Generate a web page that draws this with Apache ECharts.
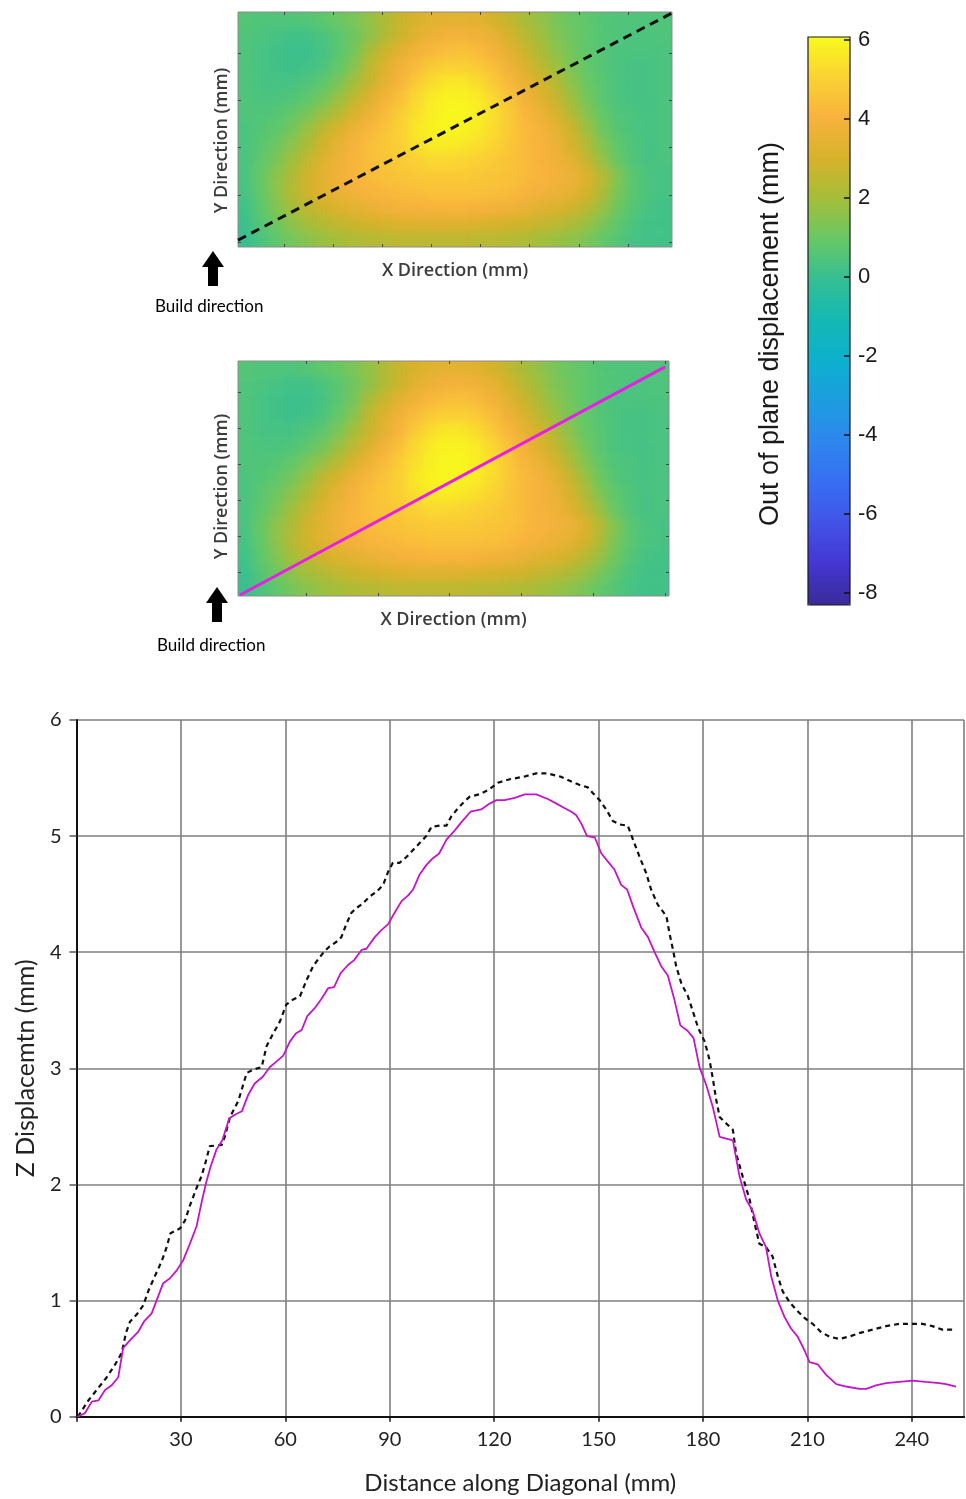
<!DOCTYPE html>
<html>
<head>
<meta charset="utf-8">
<script src="https://cdn.jsdelivr.net/npm/echarts@6/dist/echarts.min.js"></script>
<style>
  html, body { margin: 0; padding: 0; background: #ffffff; }
  #stage { position: relative; width: 966px; height: 1499px; }
  #maps, #chart { position: absolute; left: 0; top: 0; width: 966px; height: 1499px; }
  /* the displacement maps are shaded smoothly: soften the cells, keep full opacity at the plate edges */
  #maps {
    filter: url(#soften);
    clip-path: path('M238,12 H672 V247 H238 Z M238,361 H669 V596 H238 Z');
  }
</style>
</head>
<body>
<svg width="0" height="0" style="position:absolute">
  <filter id="soften" x="0" y="0" width="100%" height="100%" color-interpolation-filters="sRGB">
    <feGaussianBlur stdDeviation="5"/>
    <feComponentTransfer><feFuncA type="table" tableValues="1 1"/></feComponentTransfer>
  </filter>
</svg>
<div id="stage">
  <div id="maps"></div>
  <div id="chart"></div>
</div>
<script>
// Out-of-plane displacement field (mm); rows run from the top edge of the plate down to the bottom edge
const fieldRows = [
  [0.6,0.5,0.5,0.5,0.6,0.8,1.0,1.3,1.7,2.2,2.7,3.1,3.3,3.4,3.4,3.3,3.0,2.6,2.1,1.7,1.3,1.0,0.8,0.6,0.5,0.5,0.5,0.5],
  [0.5,0.4,0.3,0.2,0.2,0.4,0.7,1.1,1.6,2.2,2.8,3.3,3.7,3.9,3.9,3.8,3.5,3.0,2.4,1.9,1.4,1.1,0.8,0.6,0.5,0.4,0.4,0.5],
  [0.5,0.3,0.2,0.1,0.1,0.3,0.7,1.2,2.1,2.8,3.4,3.8,4.2,4.4,4.5,4.3,3.9,3.4,2.8,2.2,1.6,1.2,0.8,0.6,0.4,0.4,0.4,0.4],
  [0.5,0.3,0.2,0.1,0.2,0.4,0.9,1.5,2.5,3.2,3.8,4.3,4.8,5.0,5.0,4.8,4.4,3.8,3.2,2.5,1.9,1.3,0.9,0.6,0.4,0.3,0.3,0.4],
  [0.5,0.3,0.3,0.3,0.5,0.8,1.3,2.0,2.7,3.4,4.1,4.8,5.3,5.6,5.6,5.3,4.8,4.2,3.6,3.0,2.3,1.6,1.0,0.7,0.4,0.3,0.3,0.4],
  [0.5,0.4,0.4,0.5,0.8,1.2,1.8,2.5,3.2,3.9,4.5,5.2,5.7,5.9,5.9,5.7,5.2,4.6,3.9,3.3,2.7,1.9,1.2,0.7,0.4,0.3,0.3,0.4],
  [0.5,0.5,0.6,0.9,1.3,1.8,2.4,3.1,3.7,4.3,4.9,5.4,5.8,6.0,6.0,5.8,5.4,4.8,4.2,3.7,3.1,2.3,1.5,0.9,0.5,0.4,0.3,0.4],
  [0.4,0.6,0.8,1.2,1.8,2.5,3.1,3.7,4.2,4.6,5.0,5.6,5.9,6.0,5.9,5.7,5.3,4.8,4.3,4.0,3.5,2.8,1.9,1.1,0.6,0.4,0.3,0.4],
  [0.4,0.7,1.1,1.6,2.2,2.9,3.5,4.0,4.4,4.7,5.0,5.4,5.7,5.7,5.6,5.4,5.1,4.7,4.3,4.0,3.7,3.1,2.3,1.4,0.8,0.5,0.3,0.4],
  [0.4,0.8,1.3,1.9,2.6,3.2,3.7,4.1,4.4,4.6,4.8,5.0,5.2,5.2,5.1,5.0,4.8,4.6,4.3,4.0,3.8,3.4,2.7,1.8,1.0,0.5,0.3,0.4],
  [0.4,1.0,1.6,2.2,2.9,3.4,3.8,4.1,4.3,4.5,4.6,4.7,4.8,4.8,4.8,4.7,4.6,4.5,4.3,4.1,3.9,3.7,3.2,2.4,1.4,0.7,0.4,0.3],
  [0.3,0.9,1.6,2.3,2.9,3.3,3.6,3.9,4.1,4.2,4.3,4.4,4.5,4.5,4.5,4.5,4.4,4.3,4.1,3.9,3.7,3.5,3.0,2.2,1.3,0.7,0.4,0.3],
  [0.2,0.8,1.4,2.0,2.5,2.9,3.2,3.4,3.6,3.8,3.9,4.0,4.1,4.1,4.1,4.0,3.9,3.8,3.6,3.4,3.2,2.9,2.4,1.8,1.1,0.6,0.3,0.2],
  [0.1,0.6,1.1,1.6,2.0,2.3,2.6,2.8,3.0,3.1,3.2,3.3,3.3,3.3,3.3,3.2,3.1,3.0,2.9,2.7,2.5,2.2,1.8,1.3,0.8,0.4,0.2,0.2],
  [0.0,0.4,0.8,1.2,1.5,1.8,2.0,2.2,2.3,2.4,2.5,2.5,2.5,2.5,2.5,2.4,2.4,2.3,2.2,2.0,1.8,1.6,1.3,0.9,0.6,0.3,0.2,0.2]
];

// Plate size (mm) and the diagonal sections drawn over each map
const plateX = 222;
const plateY = 120;
const diagonalDashed = [[0, 3.5], [222, 119.5]];
const diagonalSolid = [[1, 0.5], [220, 117]];

// Z displacement profiles along the diagonal (distance mm, displacement mm)
const dashedDist = [0.4,3.4,5.8,8.7,11.1,13.0,14.2,15.4,17.3,19.2,20.6,22.5,24.5,25.9,27.0,29.7,31.2,32.6,34.5,35.9,36.9,38.3,41.7,42.6,44.1,46.5,48.9,50.8,53.2,54.6,56.5,58.4,60.3,62.1,64.2,66.1,68.0,69.7,71.3,72.7,74.7,76.1,77.5,79.0,80.4,82.3,84.2,86.2,88.1,89.5,90.9,92.8,94.8,96.7,98.6,100.5,102.0,104.4,106.3,107.7,109.6,111.5,113.0,115.8,118.5,121.1,124.5,128.3,132.1,135.4,139.3,142.2,144.6,146.9,148.4,150.3,152.2,154.1,156.1,158.4,159.9,161.8,163.7,165.1,167.0,169.5,170.4,171.4,172.3,173.8,175.7,177.1,178.6,180.5,181.9,182.9,183.8,184.8,188.6,189.5,191.4,193.4,194.8,196.2,198.1,200.0,201.5,202.9,204.8,206.8,209.2,211.5,213.9,216.3,219.2,222.0,224.9,228.8,232.6,236.4,240.2,243.1,245.9,248.8,252.7];
const dashedZ = [0.00,0.14,0.23,0.34,0.45,0.55,0.72,0.82,0.88,0.96,1.08,1.21,1.34,1.46,1.58,1.62,1.69,1.82,1.97,2.07,2.17,2.33,2.34,2.41,2.58,2.72,2.96,2.99,3.01,3.19,3.30,3.40,3.55,3.59,3.62,3.76,3.88,3.95,4.01,4.05,4.09,4.13,4.24,4.34,4.38,4.42,4.48,4.52,4.58,4.69,4.77,4.77,4.82,4.88,4.94,5.00,5.08,5.09,5.09,5.17,5.24,5.30,5.34,5.36,5.40,5.46,5.49,5.51,5.54,5.54,5.51,5.47,5.44,5.42,5.37,5.31,5.23,5.13,5.10,5.09,4.97,4.82,4.68,4.54,4.41,4.31,4.16,4.02,3.88,3.73,3.62,3.49,3.35,3.23,3.07,2.90,2.73,2.58,2.47,2.27,2.07,1.87,1.67,1.49,1.46,1.38,1.21,1.08,0.99,0.92,0.85,0.80,0.73,0.69,0.67,0.69,0.72,0.75,0.78,0.80,0.80,0.80,0.78,0.75,0.75];

const solidDist = [0.3,2.4,4.4,6.3,8.2,10.1,12.0,13.4,15.4,17.7,19.4,21.6,23.0,24.9,26.8,28.8,30.7,32.6,34.5,35.9,37.2,38.5,40.2,41.9,43.9,45.5,47.5,49.3,51.2,53.6,55.5,57.5,59.4,61.3,63.0,64.7,66.3,68.5,70.4,72.3,74.0,75.9,78.0,79.7,81.9,83.3,85.7,87.6,89.5,91.4,93.4,95.3,96.7,98.6,100.5,102.4,104.2,106.3,108.7,110.6,113.2,116.3,118.7,120.7,123.0,125.9,128.8,132.1,135.4,137.9,140.3,142.2,143.6,145.0,146.7,148.9,150.8,152.7,154.6,156.5,158.2,160.1,162.3,164.2,166.1,168.0,169.9,171.8,173.5,175.7,177.3,179.0,180.9,182.8,184.8,188.6,190.5,192.4,194.3,196.2,198.1,199.6,201.5,203.4,205.3,207.2,209.2,210.6,213.0,215.4,218.3,221.1,224.9,226.9,229.7,232.6,236.4,240.2,244.0,247.9,249.8,252.7];
const solidZ = [0.00,0.03,0.13,0.14,0.23,0.27,0.34,0.59,0.66,0.73,0.82,0.89,1.00,1.15,1.19,1.26,1.35,1.49,1.64,1.84,2.01,2.15,2.30,2.38,2.57,2.60,2.63,2.77,2.87,2.93,3.01,3.06,3.11,3.23,3.30,3.33,3.45,3.52,3.60,3.69,3.70,3.82,3.89,3.93,4.02,4.03,4.13,4.19,4.24,4.34,4.44,4.49,4.54,4.67,4.75,4.81,4.85,4.97,5.05,5.12,5.21,5.23,5.28,5.31,5.31,5.33,5.36,5.36,5.32,5.28,5.24,5.21,5.18,5.11,5.00,4.99,4.85,4.78,4.71,4.58,4.54,4.38,4.21,4.13,4.00,3.88,3.80,3.59,3.37,3.32,3.26,3.01,2.86,2.67,2.41,2.38,2.07,1.87,1.77,1.58,1.46,1.21,1.00,0.86,0.76,0.69,0.57,0.47,0.45,0.36,0.28,0.26,0.24,0.24,0.27,0.29,0.30,0.31,0.30,0.29,0.28,0.26];

// Colour bar: shaded range and labelled ticks
const colorbarMin = -8.3;
const colorbarMax = 6.08;
const colorbarTickMin = -8;
const colorbarTickMax = 6;
const parulaColors = ['#3b2a98', '#4436d2', '#4252e8', '#386ef2', '#2e86ee', '#1e9ce0', '#0cb0ce', '#14b8b4',
                      '#34be94', '#66c866', '#a4be3a', '#d6b22a', '#f8b23e', '#fad234', '#f9f91c'];

const nRows = fieldRows.length;
const heatData = [];
fieldRows.forEach((row, r) => row.forEach((v, c) => heatData.push([c, nRows - 1 - r, v])));
const colCats = fieldRows[0].map((_, i) => i);
const rowCats = fieldRows.map((_, i) => i);

const pairs = (xs, ys) => xs.map((x, i) => [x, ys[i]]);

// Map frames shared by both chart layers
const mapFrames = [
  { left: 238, top: 12, width: 434, height: 235 },
  { left: 238, top: 361, width: 431, height: 235 }
];

// ---- Layer 1: the two displacement maps (cells only) ----
const mapsChart = echarts.init(document.getElementById('maps'), null, { renderer: 'canvas' });
mapsChart.setOption({
  backgroundColor: 'transparent',
  animation: false,
  grid: mapFrames.map(f => Object.assign({ show: false }, f)),
  xAxis: mapFrames.map((_, g) => ({ gridIndex: g, type: 'category', data: colCats, show: false })),
  yAxis: mapFrames.map((_, g) => ({ gridIndex: g, type: 'category', data: rowCats, show: false })),
  visualMap: {
    type: 'continuous', min: colorbarMin, max: colorbarMax, show: false,
    inRange: { color: parulaColors }
  },
  series: mapFrames.map((_, g) => ({
    type: 'heatmap', xAxisIndex: g, yAxisIndex: g, data: heatData, itemStyle: { borderWidth: 0 }
  }))
});

// ---- Layer 2: frames, ticks, sections, colour bar and the profile plot ----
const grids = [];
const xAxes = [];
const yAxes = [];
function addGrid(grid, xAxis, yAxis) {
  const g = grids.length;
  grids.push(grid);
  xAxes.push(Object.assign({ gridIndex: g }, xAxis));
  yAxes.push(Object.assign({ gridIndex: g }, yAxis));
  return g;
}
const hiddenAxis = { type: 'value', show: false };

// short edge ticks: a thin strip whose split lines fall on evenly spaced ticks
function tickStrip(rect, vertical, steps, color, width) {
  const lines = { type: 'value', min: 0, max: steps, interval: 1, z: 10,
    axisLine: { show: false }, axisTick: { show: false }, axisLabel: { show: false },
    splitLine: { show: true, lineStyle: { color: color, width: width } } };
  addGrid(Object.assign({ show: false }, rect), vertical ? hiddenAxis : lines, vertical ? lines : hiddenAxis);
}

const mapLabelFont = { fontFamily: 'Open Sans', fontSize: 18, fontWeight: 600, color: '#3c3c3c' };
const plainAxis = { axisLine: { show: false }, axisTick: { show: false }, axisLabel: { show: false }, splitLine: { show: false } };

function mapPanel(frame, yNameShift) {
  return addGrid(
    Object.assign({ show: true, borderColor: '#8c8c8c', borderWidth: 1, z: 5, backgroundColor: 'transparent' }, frame),
    Object.assign({ type: 'value', min: 0, max: plateX,
      name: 'X Direction (mm)', nameLocation: 'middle', nameGap: 15, nameTextStyle: mapLabelFont }, plainAxis),
    Object.assign({ type: 'value', min: 0, max: plateY,
      name: 'Y Direction (mm)', nameLocation: 'middle', nameGap: 7,
      nameTextStyle: Object.assign({ padding: [0, yNameShift, 0, 0] }, mapLabelFont) }, plainAxis)
  );
}

const map1Grid = mapPanel(mapFrames[0], 22);
const map2Grid = mapPanel(mapFrames[1], 16);

// edge ticks of the two maps
const mapTick = '#444444';
tickStrip({ left: 284, top: 244, width: 344, height: 3 }, false, 7, mapTick, 1);
tickStrip({ left: 284, top: 12, width: 344, height: 3 }, false, 7, mapTick, 1);
tickStrip({ left: 238, top: 53, width: 3, height: 189 }, true, 4, mapTick, 1);
tickStrip({ left: 669, top: 53, width: 3, height: 189 }, true, 4, mapTick, 1);
tickStrip({ left: 306, top: 593, width: 359, height: 3 }, false, 5, mapTick, 1);
tickStrip({ left: 306, top: 361, width: 359, height: 3 }, false, 5, mapTick, 1);
tickStrip({ left: 238, top: 392, width: 3, height: 180 }, true, 5, mapTick, 1);
tickStrip({ left: 666, top: 392, width: 3, height: 180 }, true, 5, mapTick, 1);

// colour bar frame, title and labelled scale
addGrid({ left: 808, top: 37, width: 42, height: 568, show: true, borderColor: '#1a1a1a', borderWidth: 1.2, z: 5, backgroundColor: 'transparent' },
  hiddenAxis, hiddenAxis);
addGrid({ left: 808, top: 63, width: 42, height: 542, show: false },
  hiddenAxis,
  Object.assign({ type: 'value', min: 0, max: 1, position: 'left',
    name: 'Out of plane displacement (mm)', nameLocation: 'middle', nameGap: 24,
    nameTextStyle: { fontFamily: 'Liberation Sans', fontSize: 27, color: '#1a1a1a' } }, plainAxis));
addGrid({ left: 808, top: 40, width: 42, height: 553, show: false },
  hiddenAxis,
  { type: 'value', min: colorbarTickMin, max: colorbarTickMax, interval: 2, position: 'right',
    axisLine: { show: false }, axisTick: { show: false }, splitLine: { show: false },
    axisLabel: { fontFamily: 'Liberation Sans', fontSize: 22, color: '#1a1a1a', margin: 8 } });
tickStrip({ left: 844, top: 40, width: 6, height: 553 }, true, 7, '#111111', 1.5);

// profile plot
const plotFont = 'Lato';
const plotGrid = addGrid({ left: 76.5, top: 720, width: 887.5, height: 696.7, show: false },
  {
    type: 'value', min: 0, max: 255, interval: 30,
    axisLine: { lineStyle: { color: '#111111', width: 2 } },
    axisTick: { length: 5, lineStyle: { color: '#111111', width: 1.5 } },
    axisLabel: {
      fontFamily: plotFont, fontSize: 20, color: '#222222', margin: 13, showMaxLabel: false,
      formatter: v => (v === 0 || v > 250) ? '' : String(v)
    },
    splitLine: { lineStyle: { color: '#7f7f7f', width: 1.6 } },
    name: 'Distance along Diagonal (mm)', nameLocation: 'middle', nameGap: 55,
    nameTextStyle: { fontFamily: plotFont, fontSize: 24, color: '#222222' }
  },
  {
    type: 'value', min: 0, max: 6, interval: 1,
    axisLine: { show: false },
    axisTick: { show: true, length: 7, lineStyle: { color: '#555555', width: 1.5 } },
    axisLabel: { fontFamily: plotFont, fontSize: 20, color: '#222222', margin: 15 },
    splitLine: { lineStyle: { color: '#7f7f7f', width: 1.6 } },
    name: 'Z Displacemtn (mm)', nameLocation: 'middle', nameGap: 38,
    nameTextStyle: { fontFamily: plotFont, fontSize: 25, color: '#222222' }
  }
);
// top and right frame lines of the profile plot
xAxes.push(Object.assign({ gridIndex: plotGrid, type: 'value', min: 0, max: 255, position: 'top',
  axisLine: { show: true, lineStyle: { color: '#111111', width: 2 } } },
  { axisTick: { show: false }, axisLabel: { show: false }, splitLine: { show: false } }));
yAxes.push(Object.assign({ gridIndex: plotGrid, type: 'value', min: 0, max: 6, position: 'right',
  axisLine: { show: true, lineStyle: { color: '#111111', width: 2 } } },
  { axisTick: { show: false }, axisLabel: { show: false }, splitLine: { show: false } }));

const option = {
  backgroundColor: 'transparent',
  animation: false,
  grid: grids,
  xAxis: xAxes,
  yAxis: yAxes,
  visualMap: {
    type: 'continuous', min: colorbarMin, max: colorbarMax, seriesIndex: [],
    orient: 'vertical', left: 808, top: 37, itemWidth: 42, itemHeight: 568, padding: 0,
    calculable: false, hoverLink: false, realtime: false, text: null, z: 1,
    inRange: { color: parulaColors }
  },
  graphic: [
    { type: 'polygon', shape: { points: [[213, 251], [224, 267], [218, 267], [218, 286], [208, 286], [208, 267], [202, 267]] }, style: { fill: '#000000' } },
    { type: 'text', x: 155, y: 298, style: { text: 'Build direction', font: '17px Lato', fill: '#000000' } },
    { type: 'polygon', shape: { points: [[217, 587], [228, 603], [222, 603], [222, 622], [212, 622], [212, 603], [206, 603]] }, style: { fill: '#000000' } },
    { type: 'text', x: 157, y: 637, style: { text: 'Build direction', font: '17px Lato', fill: '#000000' } }
  ],
  series: [
    {
      type: 'line', xAxisIndex: map1Grid, yAxisIndex: map1Grid, data: diagonalDashed, showSymbol: false, silent: true,
      lineStyle: { color: '#111111', width: 3, type: [9, 6] }, z: 6
    },
    {
      type: 'line', xAxisIndex: map2Grid, yAxisIndex: map2Grid, data: diagonalSolid, showSymbol: false, silent: true,
      lineStyle: { color: '#e81ee6', width: 3 }, z: 6
    },
    {
      type: 'line', xAxisIndex: plotGrid, yAxisIndex: plotGrid, data: pairs(dashedDist, dashedZ), showSymbol: false,
      lineStyle: { color: '#111111', width: 2.2, type: [5, 4] }
    },
    {
      type: 'line', xAxisIndex: plotGrid, yAxisIndex: plotGrid, data: pairs(solidDist, solidZ), showSymbol: false,
      lineStyle: { color: '#c416c8', width: 1.8 }
    }
  ]
};

const chart = echarts.init(document.getElementById('chart'), null, { renderer: 'canvas' });
chart.setOption(option);
</script>
</body>
</html>
